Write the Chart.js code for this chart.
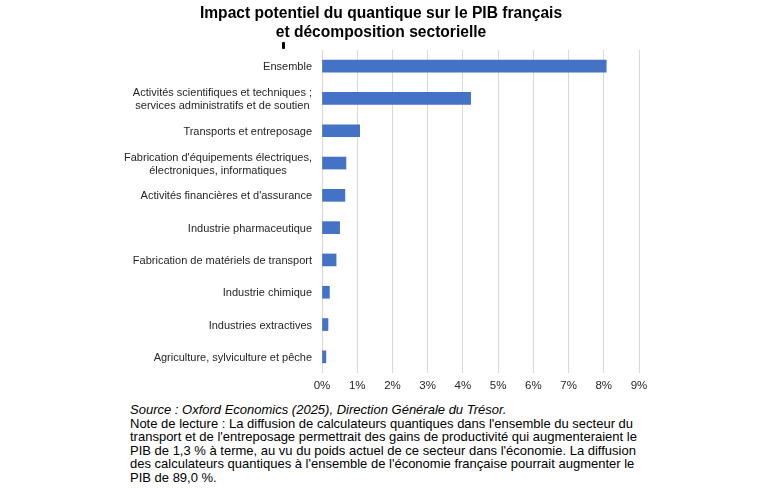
<!DOCTYPE html>
<html lang="fr">
<head>
<meta charset="utf-8">
<script src="https://cdn.jsdelivr.net/npm/chart.js@4.4.1/dist/chart.umd.min.js"></script>
<style>
    html, body { margin: 0; padding: 0; background: #fff; }
    body { width: 781px; height: 488px; position: relative; overflow: hidden; font-family: "Liberation Sans", Arial, sans-serif; }
    #title { position: absolute; left: 0; width: 762px; top: 3px; text-align: center; font-weight: bold; font-size: 15.6px; line-height: 19px; color: #000; }
    #mark { position: absolute; left: 282px; top: 42px; width: 3px; height: 7px; background: #000; border-radius: 1px; }
    #wrap { position: absolute; left: 0; top: 0; width: 781px; height: 395px; }
    #note { position: absolute; left: 130px; top: 403px; font-size: 13px; line-height: 13.6px; color: #000; white-space: nowrap; }
    #note i { font-style: italic; }
</style>
</head>
<body>
<div id="wrap"><canvas id="chart"></canvas></div>
<div id="title">Impact potentiel du quantique sur le PIB français<br>et décomposition sectorielle</div>
<div id="mark"></div>
<div id="note">
    <i>Source : Oxford Economics (2025), Direction Générale du Trésor.</i><br>
    Note de lecture : La diffusion de calculateurs quantiques dans l'ensemble du secteur du<br>
    transport et de l'entreposage permettrait des gains de productivité qui augmenteraient le<br>
    PIB de 1,3 % à terme, au vu du poids actuel de ce secteur dans l'économie. La diffusion<br>
    des calculateurs quantiques à l'ensemble de l'économie française pourrait augmenter le<br>
    PIB de 89,0 %.
</div>
<script>
// sectors, top to bottom
const sectors = [
    ['Ensemble'],
    ['Activités scientifiques et techniques ;', 'services administratifs et de soutien'],
    ['Transports et entreposage'],
    ["Fabrication d'équipements électriques,", 'électroniques, informatiques'],
    ["Activités financières et d'assurance"],
    ['Industrie pharmaceutique'],
    ['Fabrication de matériels de transport'],
    ['Industrie chimique'],
    ['Industries extractives'],
    ['Agriculture, sylviculture et pêche'],
];
// impact on GDP, in %
const impact = [8.07, 4.22, 1.07, 0.68, 0.65, 0.50, 0.40, 0.21, 0.17, 0.11];
const xTicks = [0, 1, 2, 3, 4, 5, 6, 7, 8, 9];

const FONT = '"Liberation Sans", Arial, sans-serif';

// y labels: block right-aligned, lines centred within the block
const sectorLabels = {
    id: 'sectorLabels',
    afterDraw(chart) {
        const y = chart.scales.y;
        const ctx = chart.ctx;
        ctx.save();
        ctx.font = '11px ' + FONT;
        ctx.fillStyle = '#262626';
        ctx.textAlign = 'center';
        ctx.textBaseline = 'middle';
        const right = y.right - 10;
        const lh = 13;
        sectors.forEach((lines, i) => {
            const cy = y.getPixelForTick(i) + 1;
            const w = Math.max(...lines.map(l => ctx.measureText(l).width));
            const cx = right - w / 2;
            const y0 = cy - (lines.length - 1) * lh / 2;
            lines.forEach((l, k) => ctx.fillText(l, cx, y0 + k * lh));
        });
        ctx.restore();
    }
};

new Chart(document.getElementById('chart'), {
    type: 'bar',
    data: {
        labels: sectors,
        datasets: [{
            data: impact,
            backgroundColor: '#4472C4',
            borderWidth: 0,
            barThickness: 12,
        }]
    },
    options: {
        indexAxis: 'y',
        responsive: true,
        maintainAspectRatio: false,
        animation: false,
        layout: { padding: { top: 50, right: 142, left: 0, bottom: 0 } },
        scales: {
            x: {
                min: 0, max: 9,
                afterBuildTicks: s => { s.ticks = xTicks.map(v => ({ value: v })); },
                afterFit: s => { s.height = 22; },
                border: { display: false },
                grid: { color: '#d9d9d9', lineWidth: 1, drawTicks: false },
                ticks: {
                    padding: 6,
                    color: '#262626',
                    font: { family: FONT, size: 11.5 },
                    callback: v => v + '%',
                }
            },
            y: {
                afterFit: s => { s.width = 322; },
                border: { display: false },
                grid: { display: false },
                ticks: { display: false }
            }
        },
        plugins: {
            legend: { display: false },
            tooltip: { enabled: false },
            title: { display: false }
        }
    },
    plugins: [sectorLabels]
});
</script>
</body>
</html>
